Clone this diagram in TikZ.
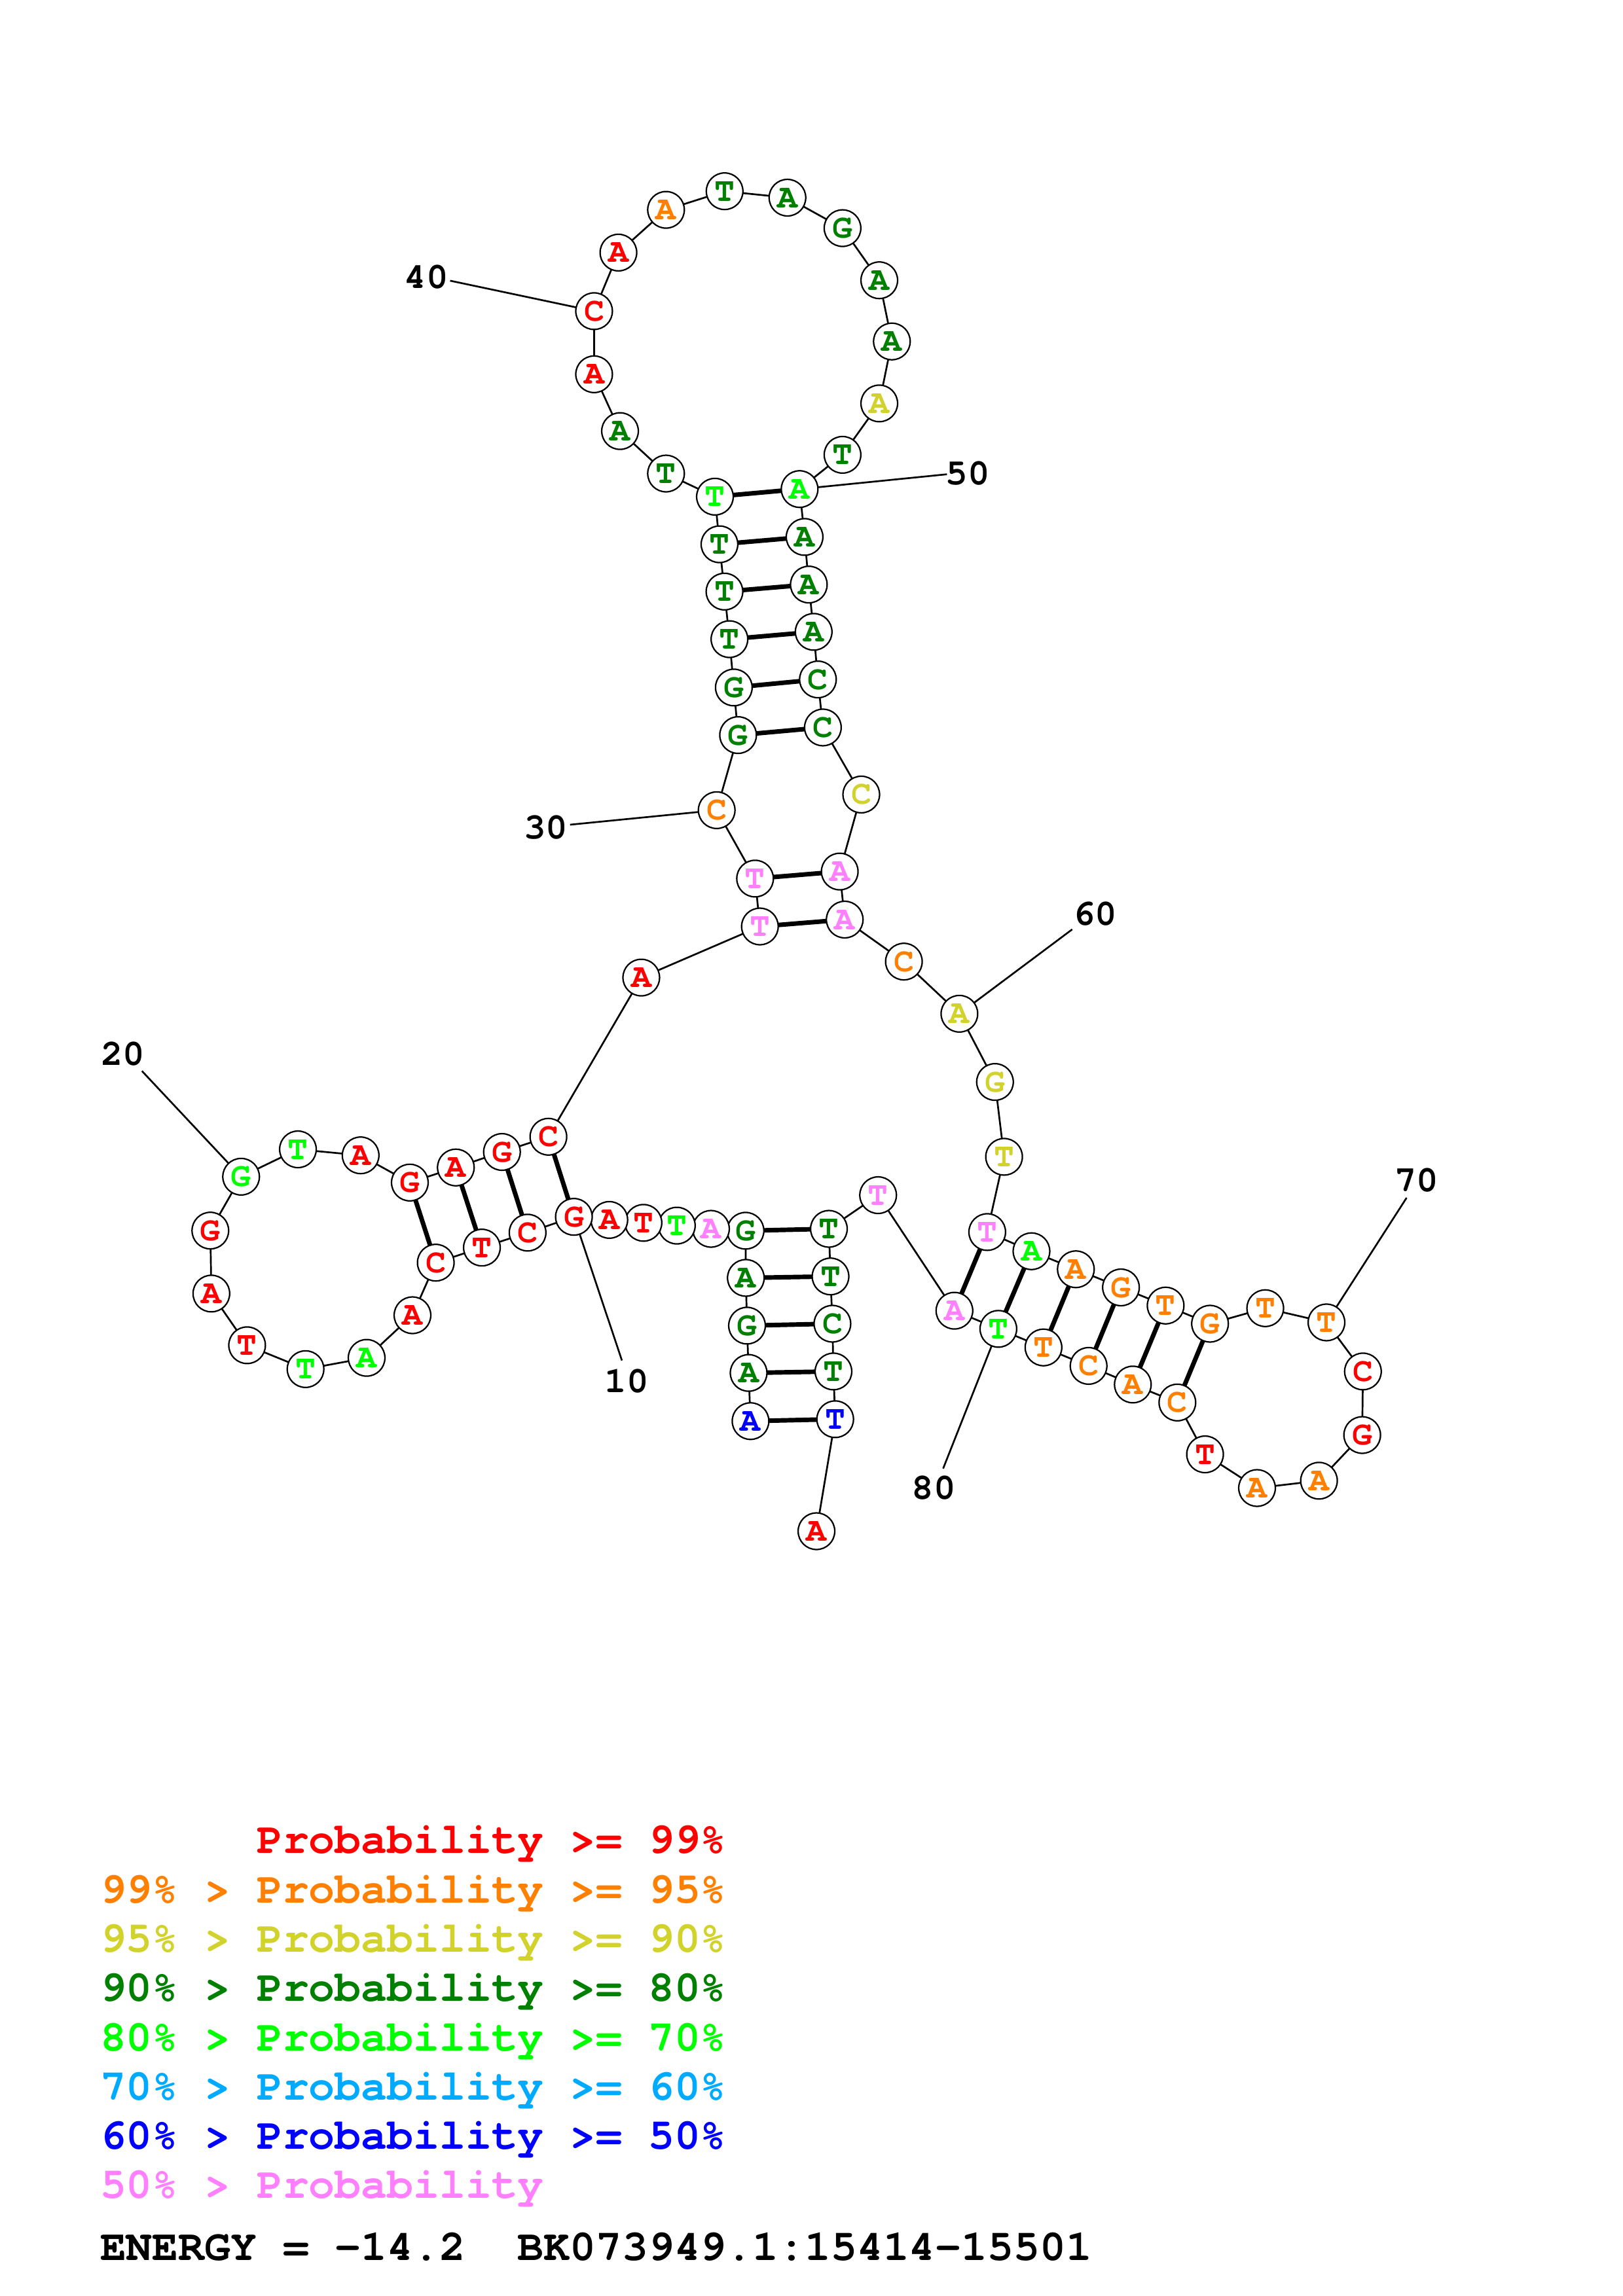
\documentclass[tikz,border=0pt]{standalone}
\usepackage{fontspec}
\newfontfamily\cour{TeX Gyre Cursor}[WordSpace={1,0,0}]
\definecolor{cR}{HTML}{FF0000}
\definecolor{cO}{HTML}{FF8000}
\definecolor{cY}{HTML}{D2D22C}
\definecolor{cD}{HTML}{008000}
\definecolor{cG}{HTML}{00FF00}
\definecolor{cL}{HTML}{00AAFF}
\definecolor{cB}{HTML}{0000FF}
\definecolor{cP}{HTML}{FF80FF}
\pgfdeclarelayer{bg}
\pgfsetlayers{bg,main}
\tikzset{
  ntbox/.style={circle, draw=black, line width=0.5pt, fill=white, minimum size=12.5pt, inner sep=0pt,
    font=\cour\bfseries\fontsize{11.5}{11.5}\selectfont},
  bbline/.style={line width=0.6pt, black},
  bpline/.style={line width=1.55pt, black},
  numlbl/.style={inner sep=0pt, font=\cour\bfseries\fontsize{12.5}{12.5}\selectfont},
  legtxt/.style={anchor=base west, inner sep=0pt, font=\cour\bfseries\fontsize{14.85}{14.85}\selectfont}
}
\newcommand\ntd[5]{\node[ntbox, text=#5] (n#1) at (#2,#3) {#4};}
\begin{document}
\begin{tikzpicture}[x=0.5pt,y=-0.5pt]
\useasboundingbox (0,0) rectangle (1108,1568);
\begin{pgfonlayer}{bg}
\fill[white] (0,0) rectangle (1108,1568);
\end{pgfonlayer}
\ntd{1}{512.4}{970.5}{A}{cB}
\ntd{2}{511.1}{937.6}{A}{cD}
\ntd{3}{510}{905.3}{G}{cD}
\ntd{4}{509.2}{872.7}{A}{cD}
\ntd{5}{509}{840.5}{G}{cD}
\ntd{6}{485.4}{839.2}{A}{cP}
\ntd{7}{462.1}{837}{T}{cG}
\ntd{8}{439.3}{835.1}{T}{cR}
\ntd{9}{416}{833.1}{A}{cR}
\ntd{10}{391.8}{831}{G}{cR}
\ntd{11}{360.2}{841.8}{C}{cR}
\ntd{12}{329}{852}{T}{cR}
\ntd{13}{297.5}{862.3}{C}{cR}
\ntd{14}{281.6}{898.2}{A}{cR}
\ntd{15}{250.3}{927.3}{A}{cG}
\ntd{16}{208.6}{935}{T}{cG}
\ntd{17}{168.7}{918.7}{T}{cR}
\ntd{18}{144.3}{883.4}{A}{cR}
\ntd{19}{143.6}{840.4}{G}{cR}
\ntd{20}{164.6}{803.6}{G}{cG}
\ntd{21}{203.4}{784.9}{T}{cG}
\ntd{22}{246.2}{789}{A}{cR}
\ntd{23}{279.8}{807.6}{G}{cR}
\ntd{24}{311.2}{797.3}{A}{cR}
\ntd{25}{342.7}{786.7}{G}{cR}
\ntd{26}{374.4}{776.3}{C}{cR}
\ntd{27}{437.8}{667.6}{A}{cR}
\ntd{28}{518.8}{632.7}{T}{cP}
\ntd{29}{515.5}{600}{T}{cP}
\ntd{30}{489.3}{553.3}{C}{cO}
\ntd{31}{503.9}{502}{G}{cD}
\ntd{32}{501}{469.5}{G}{cD}
\ntd{33}{498}{436.5}{T}{cD}
\ntd{34}{494.6}{404}{T}{cD}
\ntd{35}{491.2}{371.7}{T}{cD}
\ntd{36}{488.1}{339.2}{T}{cG}
\ntd{37}{454.7}{323.4}{T}{cD}
\ntd{38}{423.3}{294.4}{A}{cD}
\ntd{39}{405.6}{255.6}{A}{cR}
\ntd{40}{405.6}{212.5}{C}{cR}
\ntd{41}{422.2}{172.5}{A}{cR}
\ntd{42}{454.7}{143.3}{A}{cO}
\ntd{43}{494.7}{130.6}{T}{cD}
\ntd{44}{537.6}{135}{A}{cD}
\ntd{45}{575.2}{155.8}{G}{cD}
\ntd{46}{600.3}{191.4}{A}{cD}
\ntd{47}{608.9}{233.2}{A}{cD}
\ntd{48}{600.3}{275.5}{A}{cY}
\ntd{49}{575.2}{310.6}{T}{cD}
\ntd{50}{545.9}{334}{A}{cG}
\ntd{51}{549.3}{366.7}{A}{cD}
\ntd{52}{552.2}{399.2}{A}{cD}
\ntd{53}{555.5}{431.5}{A}{cD}
\ntd{54}{558.4}{464}{C}{cD}
\ntd{55}{561.8}{496.8}{C}{cD}
\ntd{56}{588}{542.6}{C}{cY}
\ntd{57}{573.3}{595.2}{A}{cP}
\ntd{58}{576.7}{628}{A}{cP}
\ntd{59}{617.1}{656.7}{C}{cO}
\ntd{60}{655}{692.3}{A}{cY}
\ntd{61}{679.3}{738.9}{G}{cY}
\ntd{62}{685.5}{790}{T}{cY}
\ntd{63}{674}{841.4}{T}{cP}
\ntd{64}{704.2}{854.5}{A}{cG}
\ntd{65}{734.5}{866.8}{A}{cO}
\ntd{66}{765.3}{879.2}{G}{cO}
\ntd{67}{795.8}{891.6}{T}{cO}
\ntd{68}{826.1}{904}{G}{cO}
\ntd{69}{863.8}{893.4}{T}{cO}
\ntd{70}{905.6}{903.1}{T}{cO}
\ntd{71}{930.5}{936.6}{C}{cR}
\ntd{72}{930}{980}{G}{cR}
\ntd{73}{900.5}{1011.2}{A}{cO}
\ntd{74}{858.2}{1016.2}{A}{cO}
\ntd{75}{822.7}{993.2}{T}{cR}
\ntd{76}{803.8}{957.8}{C}{cO}
\ntd{77}{773.4}{945.5}{A}{cO}
\ntd{78}{743.2}{932.8}{C}{cO}
\ntd{79}{712.4}{920.2}{T}{cO}
\ntd{80}{681.6}{907.5}{T}{cG}
\ntd{81}{651.6}{895.1}{A}{cP}
\ntd{82}{599.5}{816.2}{T}{cP}
\ntd{83}{565.9}{839.2}{T}{cD}
\ntd{84}{567}{871.7}{T}{cD}
\ntd{85}{568.3}{904}{C}{cD}
\ntd{86}{569}{936.6}{T}{cD}
\ntd{87}{570.2}{969.2}{T}{cB}
\ntd{88}{557.4}{1045.7}{A}{cR}
% position labels
\node[numlbl] (l10) at (427.8,943.2) {10};
\node[numlbl] (l20) at (83.9,719.5) {20};
\node[numlbl] (l30) at (372.6,565.2) {30};
\node[numlbl] (l40) at (291,189.3) {40};
\node[numlbl] (l50) at (660.8,323.4) {50};
\node[numlbl] (l60) at (747.7,624) {60};
\node[numlbl] (l70) at (967.2,805.9) {70};
\node[numlbl] (l80) at (637.5,1016.2) {80};
\coordinate (e10) at (424.6,929.1);
\coordinate (e20) at (96.9,731.4);
\coordinate (e30) at (389.2,563.2);
\coordinate (e40) at (307.3,191.7);
\coordinate (e50) at (646.5,323.9);
\coordinate (e60) at (732,634.7);
\coordinate (e70) at (960.3,818);
\coordinate (e80) at (643.9,1002.9);
\begin{pgfonlayer}{bg}
\foreach \i in {1,...,87} {
  \pgfmathtruncatemacro\j{\i+1}
  \draw[bbline] (n\i.center) -- (n\j.center);
}
\foreach \a/\b in {1/87,2/86,3/85,4/84,5/83,10/26,11/25,12/24,13/23,28/58,29/57,31/55,32/54,33/53,34/52,35/51,36/50,63/81,64/80,65/79,66/78,67/77,68/76} {
  \draw[bpline] (n\a.center) -- (n\b.center);
}
\foreach \k in {10,20,30,40,50,60,70,80} {
  \draw[bbline] (n\k.center) -- (e\k);
}
\end{pgfonlayer}
% legend
\node[legtxt, text=cR] (g1) at (68,1265.8) {\phantom{99\% > }Probability >= 99\%};
\node[legtxt, text=cO] (g2) at (68,1299.4) {99\% > Probability >= 95\%};
\node[legtxt, text=cY] (g3) at (68,1333.1) {95\% > Probability >= 90\%};
\node[legtxt, text=cD] (g4) at (68,1366.7) {90\% > Probability >= 80\%};
\node[legtxt, text=cG] (g5) at (68,1400.4) {80\% > Probability >= 70\%};
\node[legtxt, text=cL] (g6) at (68,1434.0) {70\% > Probability >= 60\%};
\node[legtxt, text=cB] (g7) at (68,1467.7) {60\% > Probability >= 50\%};
\node[legtxt, text=cP] (g8) at (68,1501.3) {50\% > Probability};
\node[legtxt, text=black] (g9) at (68,1543.6) {ENERGY = -14.2~~BK073949.1:15414-15501};
\end{tikzpicture}
\end{document}
